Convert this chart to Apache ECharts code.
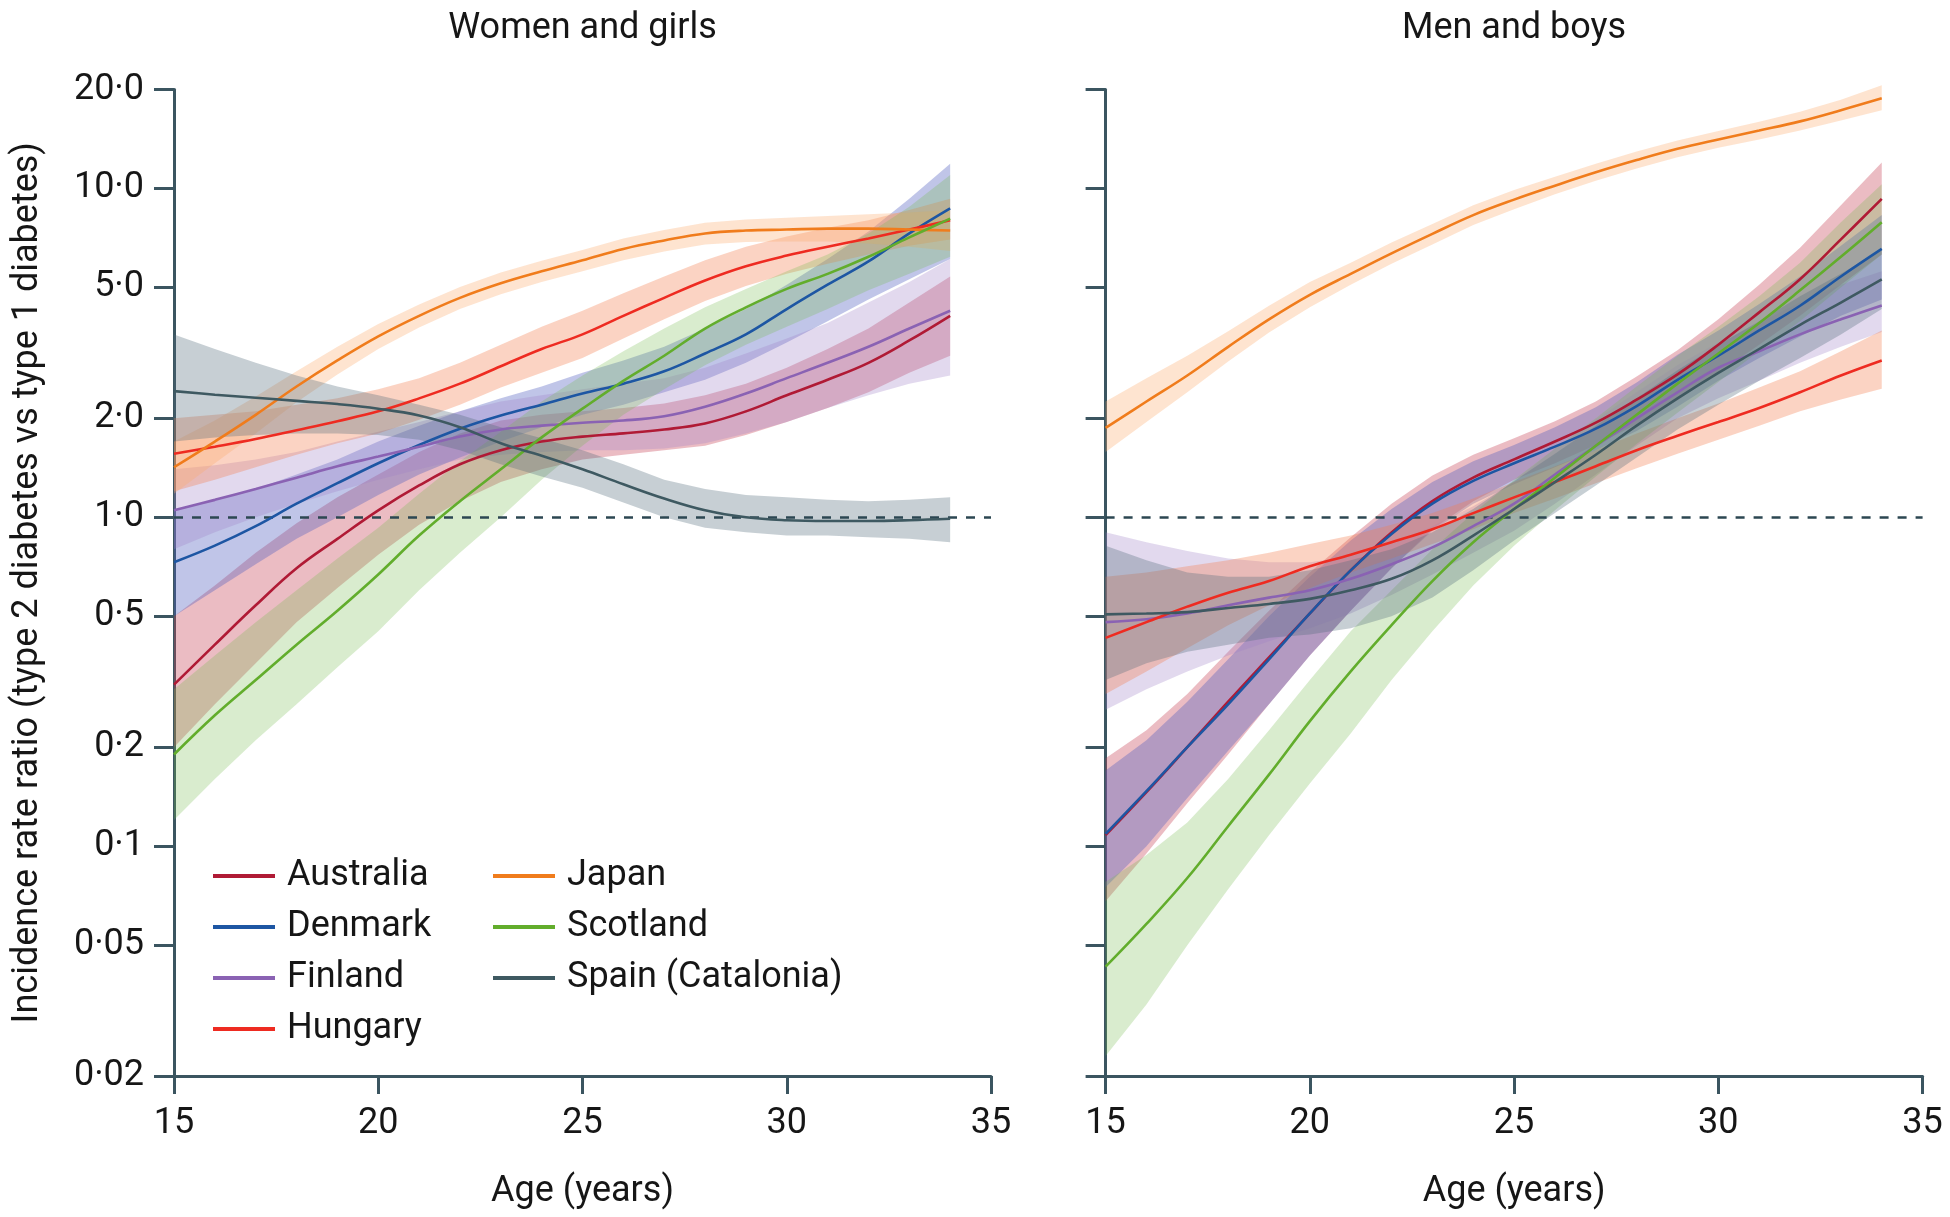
<!DOCTYPE html>
<html>
<head>
<meta charset="utf-8">
<script src="https://cdn.jsdelivr.net/npm/echarts@6/dist/echarts.min.js"></script>
<style>html,body{margin:0;padding:0;background:#fff}#c{width:1950px;height:1217px}</style>
</head>
<body>
<div id="c"></div>
<script>
// ---------------- DATA ----------------
const AGES = [15,16,17,18,19,20,21,22,23,24,25,26,27,28,29,30,31,32,33,34];
const COUNTRIES = ['Australia','Denmark','Finland','Hungary','Japan','Scotland','Spain (Catalonia)'];
const PANEL_TITLES = ['Women and girls','Men and boys'];
const X_TICKS = [15,20,25,30,35];
const Y_TICK_VALUES = [0.02,0.05,0.1,0.2,0.5,1,2,5,10,20];
const Y_TICK_LABELS = ['0·02','0·05','0·1','0·2','0·5','1·0','2·0','5·0','10·0','20·0'];

// Women and girls
const W_AUS    = [0.31,0.41,0.54,0.70,0.86,1.05,1.25,1.45,1.60,1.70,1.76,1.80,1.85,1.93,2.10,2.35,2.62,2.95,3.45,4.10];
const W_AUS_LO = [0.20,0.27,0.36,0.48,0.61,0.77,0.95,1.12,1.28,1.40,1.50,1.55,1.60,1.65,1.78,1.95,2.15,2.40,2.75,3.10];
const W_AUS_HI = [0.50,0.62,0.78,0.96,1.15,1.35,1.58,1.80,1.97,2.05,2.10,2.15,2.22,2.35,2.55,2.85,3.25,3.75,4.50,5.40];
const W_DEN    = [0.73,0.82,0.94,1.10,1.27,1.46,1.66,1.86,2.04,2.20,2.38,2.55,2.78,3.15,3.60,4.30,5.10,6.00,7.30,8.70];
const W_DEN_LO = [0.50,0.60,0.72,0.86,1.00,1.17,1.35,1.52,1.70,1.88,2.05,2.20,2.40,2.62,2.95,3.40,3.95,4.60,5.30,6.10];
const W_DEN_HI = [1.05,1.13,1.22,1.35,1.50,1.70,1.90,2.10,2.30,2.50,2.75,3.00,3.30,3.75,4.30,5.10,6.10,7.40,9.30,11.9];
const W_FIN    = [1.05,1.13,1.22,1.32,1.43,1.53,1.64,1.76,1.85,1.90,1.94,1.97,2.03,2.17,2.38,2.65,2.95,3.30,3.75,4.25];
const W_FIN_LO = [0.80,0.90,1.00,1.10,1.20,1.30,1.40,1.50,1.55,1.58,1.60,1.60,1.62,1.68,1.80,1.95,2.15,2.35,2.55,2.70];
const W_FIN_HI = [1.40,1.44,1.50,1.58,1.70,1.82,1.95,2.10,2.25,2.35,2.45,2.55,2.65,2.85,3.15,3.50,3.90,4.50,5.20,6.10];
const W_HUN    = [1.56,1.64,1.73,1.84,1.96,2.10,2.30,2.55,2.88,3.25,3.60,4.10,4.65,5.25,5.80,6.25,6.65,7.05,7.50,8.00];
const W_HUN_LO = [1.20,1.30,1.42,1.55,1.68,1.80,1.98,2.20,2.48,2.75,3.05,3.50,4.00,4.55,5.05,5.50,5.90,6.30,6.70,7.00];
const W_HUN_HI = [2.00,2.05,2.10,2.20,2.30,2.45,2.65,2.95,3.35,3.80,4.25,4.80,5.40,6.05,6.65,7.15,7.60,8.00,8.60,9.30];
const W_JPN    = [1.42,1.70,2.05,2.50,3.00,3.55,4.10,4.65,5.15,5.60,6.05,6.55,6.95,7.30,7.45,7.50,7.55,7.55,7.50,7.45];
const W_JPN_LO = [1.18,1.46,1.80,2.24,2.72,3.25,3.78,4.30,4.77,5.20,5.60,6.05,6.43,6.75,6.88,6.90,6.90,6.80,6.65,6.45];
const W_JPN_HI = [1.70,1.97,2.33,2.78,3.30,3.87,4.44,5.02,5.55,6.03,6.50,7.05,7.48,7.87,8.05,8.15,8.25,8.35,8.45,8.60];
const W_SCO    = [0.19,0.25,0.32,0.41,0.52,0.67,0.88,1.12,1.40,1.75,2.14,2.60,3.10,3.75,4.35,4.95,5.50,6.20,7.10,8.10];
const W_SCO_LO = [0.12,0.16,0.21,0.27,0.35,0.45,0.60,0.78,1.00,1.30,1.65,2.05,2.45,2.90,3.35,3.80,4.30,4.90,5.50,6.20];
const W_SCO_HI = [0.30,0.38,0.48,0.60,0.75,0.93,1.18,1.48,1.82,2.25,2.70,3.20,3.75,4.35,4.95,5.60,6.30,7.30,8.80,11.0];
const W_SPA    = [2.42,2.36,2.31,2.26,2.21,2.14,2.04,1.88,1.68,1.54,1.40,1.26,1.14,1.05,1.00,0.98,0.975,0.975,0.98,0.99];
const W_SPA_LO = [1.70,1.75,1.78,1.80,1.80,1.78,1.72,1.60,1.45,1.33,1.23,1.11,1.00,0.93,0.90,0.88,0.88,0.87,0.86,0.84];
const W_SPA_HI = [3.60,3.25,2.95,2.70,2.50,2.35,2.20,2.05,1.88,1.74,1.60,1.45,1.30,1.22,1.17,1.15,1.13,1.12,1.13,1.15];

// Men and boys
const M_AUS    = [0.108,0.146,0.20,0.275,0.375,0.51,0.69,0.90,1.12,1.32,1.50,1.70,1.94,2.28,2.72,3.35,4.20,5.30,7.00,9.30];
const M_AUS_LO = [0.068,0.095,0.135,0.19,0.27,0.38,0.52,0.70,0.92,1.12,1.30,1.46,1.66,1.92,2.27,2.75,3.35,4.10,5.10,6.30];
const M_AUS_HI = [0.185,0.225,0.29,0.39,0.52,0.68,0.87,1.10,1.34,1.55,1.74,1.96,2.25,2.68,3.22,4.00,5.10,6.60,8.90,12.0];
const M_DEN    = [0.109,0.147,0.20,0.27,0.37,0.51,0.69,0.89,1.10,1.29,1.46,1.64,1.86,2.18,2.62,3.10,3.70,4.40,5.40,6.55];
const M_DEN_LO = [0.075,0.10,0.14,0.195,0.27,0.38,0.52,0.70,0.91,1.10,1.26,1.42,1.60,1.83,2.17,2.60,3.05,3.55,4.10,4.60];
const M_DEN_HI = [0.17,0.21,0.275,0.37,0.50,0.66,0.85,1.06,1.28,1.48,1.66,1.88,2.16,2.57,3.12,3.70,4.45,5.40,6.70,8.30];
const M_FIN    = [0.48,0.49,0.51,0.54,0.57,0.60,0.65,0.72,0.81,0.94,1.10,1.35,1.65,2.00,2.40,2.85,3.20,3.60,4.00,4.41];
const M_FIN_LO = [0.26,0.30,0.34,0.38,0.42,0.46,0.51,0.58,0.67,0.78,0.91,1.10,1.35,1.65,2.00,2.30,2.60,2.95,3.30,3.66];
const M_FIN_HI = [0.90,0.84,0.79,0.75,0.73,0.73,0.76,0.83,0.94,1.08,1.28,1.62,1.98,2.40,2.90,3.40,3.90,4.50,5.10,5.60];
const M_HUN    = [0.43,0.48,0.535,0.59,0.64,0.71,0.77,0.84,0.92,1.03,1.15,1.28,1.43,1.60,1.77,1.95,2.15,2.40,2.70,3.00];
const M_HUN_LO = [0.29,0.34,0.40,0.47,0.54,0.61,0.68,0.75,0.83,0.92,1.03,1.14,1.27,1.41,1.56,1.72,1.90,2.10,2.28,2.46];
const M_HUN_HI = [0.66,0.68,0.71,0.74,0.78,0.83,0.88,0.95,1.03,1.14,1.28,1.43,1.60,1.80,2.00,2.22,2.48,2.78,3.20,3.70];
const M_JPN    = [1.87,2.25,2.70,3.30,4.00,4.75,5.50,6.35,7.28,8.30,9.25,10.2,11.2,12.2,13.2,14.1,15.0,16.0,17.3,18.8];
const M_JPN_LO = [1.58,1.95,2.40,2.98,3.65,4.35,5.10,5.90,6.75,7.75,8.65,9.60,10.55,11.5,12.45,13.3,14.1,15.0,16.1,17.3];
const M_JPN_HI = [2.25,2.65,3.10,3.68,4.40,5.20,5.95,6.85,7.80,8.90,9.90,10.85,11.9,12.95,14.0,14.95,15.95,17.1,18.6,20.6];
const M_SCO    = [0.043,0.058,0.08,0.115,0.165,0.24,0.34,0.47,0.64,0.84,1.06,1.32,1.65,2.05,2.55,3.15,3.90,4.90,6.20,7.90];
const M_SCO_LO = [0.023,0.033,0.05,0.074,0.108,0.155,0.22,0.32,0.45,0.62,0.82,1.05,1.33,1.67,2.08,2.58,3.20,3.95,5.00,6.30];
const M_SCO_HI = [0.078,0.094,0.118,0.16,0.225,0.32,0.45,0.60,0.80,1.03,1.30,1.62,2.00,2.50,3.10,3.80,4.70,5.95,7.90,10.3];
const M_SPA    = [0.507,0.51,0.515,0.53,0.545,0.565,0.60,0.65,0.74,0.88,1.06,1.28,1.55,1.90,2.30,2.75,3.25,3.85,4.50,5.29];
const M_SPA_LO = [0.32,0.36,0.39,0.41,0.43,0.44,0.46,0.50,0.57,0.69,0.85,1.03,1.25,1.52,1.85,2.20,2.60,3.05,3.60,4.30];
const M_SPA_HI = [0.82,0.74,0.68,0.66,0.66,0.69,0.74,0.80,0.90,1.06,1.29,1.56,1.90,2.30,2.80,3.35,3.95,4.70,5.50,6.50];

// ---------------- STYLE ----------------
const LINE_COLORS = ['#b01a35','#1d56a3','#8a62b3','#ee2b21','#f07c1c','#62ad2c','#3e5961'];
const BAND_COLORS = ['rgba(200,70,90,0.36)','rgba(80,95,190,0.36)','rgba(160,130,200,0.30)',
                     'rgba(242,125,80,0.34)','rgba(252,170,110,0.32)','rgba(120,185,80,0.28)','rgba(80,105,120,0.32)'];
const AXIS_COLOR = '#3b5560';
const FONT = 'Roboto';

const PANELS = [
  [[W_AUS,W_AUS_LO,W_AUS_HI],[W_DEN,W_DEN_LO,W_DEN_HI],[W_FIN,W_FIN_LO,W_FIN_HI],[W_HUN,W_HUN_LO,W_HUN_HI],
   [W_JPN,W_JPN_LO,W_JPN_HI],[W_SCO,W_SCO_LO,W_SCO_HI],[W_SPA,W_SPA_LO,W_SPA_HI]],
  [[M_AUS,M_AUS_LO,M_AUS_HI],[M_DEN,M_DEN_LO,M_DEN_HI],[M_FIN,M_FIN_LO,M_FIN_HI],[M_HUN,M_HUN_LO,M_HUN_HI],
   [M_JPN,M_JPN_LO,M_JPN_HI],[M_SCO,M_SCO_LO,M_SCO_HI],[M_SPA,M_SPA_LO,M_SPA_HI]]
];

function fmtY(v){
  let best = 0, bd = Infinity;
  Y_TICK_VALUES.forEach((t,i)=>{ const d = Math.abs(Math.log(v) - Math.log(t)); if (d < bd){bd=d;best=i;} });
  return Y_TICK_LABELS[best];
}

const chart = echarts.init(document.getElementById('c'));

const grids = [
  {left:174, width:817, top:89.5, height:986.5},
  {left:1105.6, width:817, top:89.5, height:986.5}
];

const xAxes = grids.map((g,i)=>({
  type:'value', gridIndex:i, min:15, max:35, interval:5,
  axisLine:{show:true, lineStyle:{color:AXIS_COLOR, width:3}},
  axisTick:{show:true, length:18, lineStyle:{color:AXIS_COLOR, width:3}},
  axisLabel:{show:true, margin:30, fontSize:36, fontFamily:FONT, color:'#161616',
             customValues: X_TICKS},
  splitLine:{show:false},
  name:'Age (years)', nameLocation:'middle', nameGap:98,
  nameTextStyle:{fontSize:36, fontFamily:FONT, color:'#161616'}
}));

const yAxes = grids.map((g,i)=>({
  type:'log', logBase:10, gridIndex:i, min:0.02, max:20,
  axisLine:{show:true, lineStyle:{color:AXIS_COLOR, width:3}},
  axisTick:{show:true, length:20, lineStyle:{color:AXIS_COLOR, width:3}, customValues: Y_TICK_VALUES},
  axisLabel:{show:i===0, margin:30, fontSize:36, fontFamily:FONT, color:'#161616',
             customValues: Y_TICK_VALUES, formatter: fmtY},
  splitLine:{show:false},
  minorTick:{show:false},
  name: i===0 ? 'Incidence rate ratio (type 2 diabetes vs type 1 diabetes)' : '',
  nameLocation:'middle', nameGap:128, nameRotate:90,
  nameTextStyle:{fontSize:36, fontFamily:FONT, color:'#161616'}
}));

const series = [];
PANELS.forEach((panel, p)=>{
  panel.forEach((trip, k)=>{
    const lo = trip[1], hi = trip[2];
    const data = AGES.map((a,j)=>[a, lo[j], hi[j]]);
    series.push({
      type:'custom', xAxisIndex:p, yAxisIndex:p, z:2, silent:true, clip:false,
      encode:{x:0, y:[1,2]},
      data: data,
      renderItem: function(params, api){
        if (params.dataIndex !== 0) return null;
        const upper = data.map(d=>api.coord([d[0], d[2]]));
        const lower = data.map(d=>api.coord([d[0], d[1]])).reverse();
        return {type:'polygon', shape:{points: upper.concat(lower), smooth:0},
                style:{fill: BAND_COLORS[k], stroke:null}};
      }
    });
  });
});
PANELS.forEach((panel, p)=>{
  panel.forEach((trip, k)=>{
    const s = {
      type:'line', name: COUNTRIES[k], xAxisIndex:p, yAxisIndex:p, z:5,
      data: AGES.map((a,j)=>[a, trip[0][j]]),
      showSymbol:false, symbol:'none', smooth:0.4, silent:true,
      lineStyle:{color:LINE_COLORS[k], width:2.6},
      itemStyle:{color:LINE_COLORS[k]}
    };
    if (k === COUNTRIES.length-1){
      s.markLine = {
        silent:true, symbol:['none','none'], label:{show:false}, animation:false,
        lineStyle:{type:[9,9], color:'#2c4752', width:2.6},
        data:[{yAxis:1}]
      };
    }
    series.push(s);
  });
});

const legendCommon = {
  orient:'vertical', itemWidth:62, itemHeight:4, itemGap:15, icon:'rect', padding:0,
  selectedMode:false,
  textStyle:{fontSize:36, fontFamily:FONT, color:'#161616', padding:[0,0,0,7]}
};

chart.setOption({
  animation:false,
  backgroundColor:'#ffffff',
  grid: grids,
  xAxis: xAxes,
  yAxis: yAxes,
  legend:[
    Object.assign({}, legendCommon, {data: COUNTRIES.slice(0,4), left:213, top:858}),
    Object.assign({}, legendCommon, {data: COUNTRIES.slice(4), left:493, top:858})
  ],
  graphic: PANEL_TITLES.map((t,i)=>({
    type:'text', x: grids[i].left + grids[i].width/2, y: 29,
    style:{text:t, fontSize:36, fontFamily:FONT, fill:'#161616',
           textAlign:'center', textVerticalAlign:'middle', align:'center', verticalAlign:'middle'}
  })),
  series: series
});
</script>
</body>
</html>
